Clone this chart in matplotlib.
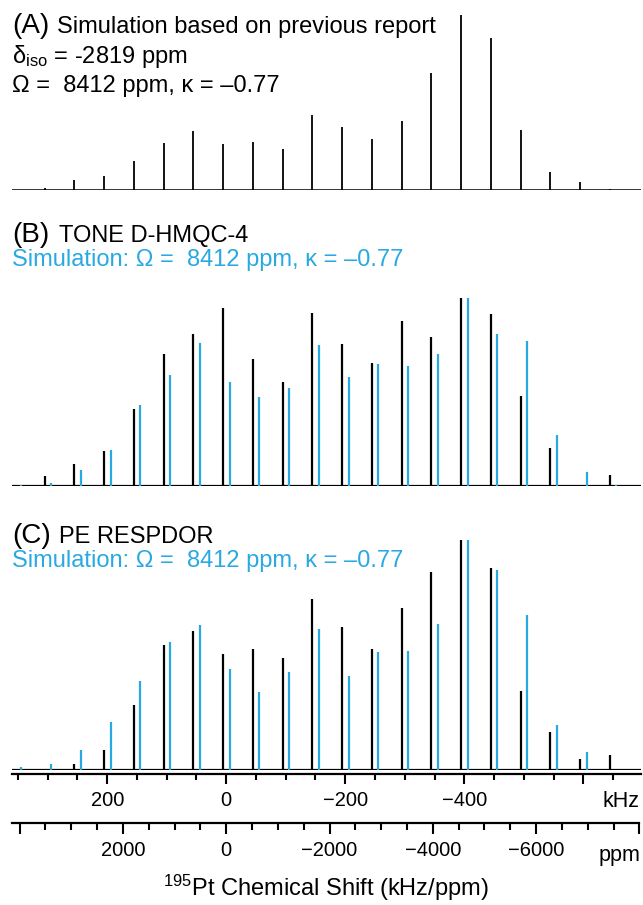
import numpy as np
import matplotlib
matplotlib.use("Agg")
import matplotlib.pyplot as plt
from matplotlib.ticker import FixedLocator, MultipleLocator, FixedFormatter

plt.rcParams['font.family'] = ['Liberation Sans', 'DejaVu Sans']
plt.rcParams['mathtext.fontset'] = 'custom'
plt.rcParams['mathtext.rm'] = 'Liberation Sans'
plt.rcParams['mathtext.it'] = 'Liberation Sans:italic'

# ---- spectral parameters -------------------------------------------------
iso_ppm = -2819.0          # isotropic shift
larmor_mhz = 86.8          # 195Pt frequency
spin_rate_khz = 50.0       # MAS rate
sim_shift_khz = -11.0      # simulated sticks drawn beside the measured ones

# spinning-sideband orders, high frequency (left) to low frequency (right)
orders = np.arange(12, -9, -1)

# (A) simulation from previously reported tensor
sim_prev = [0.0, 1.5, 5.7, 8.2, 16.7, 27.1, 33.8, 26.6, 27.3, 23.7, 42.7,
            36.1, 29.4, 39.5, 67.0, 100.0, 86.9, 34.2, 10.2, 4.7, 0.9]

# (B) TONE D-HMQC-4 experiment and simulation
hmqc_exp = [0.0, 5.3, 11.4, 18.5, 40.8, 70.2, 81.1, 94.7, 67.9, 55.4, 92.5,
            75.6, 65.4, 88.1, 79.7, 100.0, 91.6, 47.8, 20.3, 0.0, 5.9]
hmqc_sim = [0.5, 1.4, 8.2, 18.9, 43.3, 59.4, 76.3, 55.3, 47.2, 52.4, 74.9,
            58.3, 65.2, 63.8, 70.2, 100.0, 81.3, 77.2, 27.3, 7.5, 0.4]

# (C) PE RESPDOR experiment and simulation
respdor_exp = [0.0, 0.0, 2.2, 8.3, 28.2, 54.1, 60.1, 50.1, 52.3, 48.3, 74.2,
               61.9, 52.3, 70.2, 85.9, 100.0, 87.8, 34.2, 16.4, 4.5, 6.3]
respdor_sim = [1.0, 2.6, 8.4, 20.5, 38.6, 55.6, 62.7, 43.7, 33.9, 42.2, 61.1,
               40.5, 51.2, 51.4, 63.3, 99.7, 86.6, 67.2, 19.2, 7.4, 0.0]

khz_major = [200, 0, -200, -400, -600]
khz_labels = ['200', '0', '\u2212200', '\u2212400', '']
ppm_major = [4000, 2000, 0, -2000, -4000, -6000, -8000]
ppm_labels = ['', '2000', '0', '\u22122000', '\u22124000', '\u22126000', '']

BLUE = '#29A9E1'
W, H = 643, 905
xlim_khz = (360.0, -697.0)

iso_khz = iso_ppm * larmor_mhz * 1e-3
pos_khz = iso_khz + orders * spin_rate_khz


def fx(x):
    return x / W


def fy(y):
    return 1 - y / H


def panel(y_base, y_top):
    ax = fig.add_axes([fx(12), fy(y_base), (641 - 12) / W, (y_base - y_top) / H])
    ax.set_xlim(*xlim_khz)
    ax.set_ylim(0, 100)
    ax.axis('off')
    return ax


def sticks(ax, x, h, color, lw):
    h = np.asarray(h)
    keep = h > 0
    ax.vlines(x[keep], 0, h[keep], color=color, lw=lw, capstyle='butt')


fig = plt.figure(figsize=(W / 100, H / 100), dpi=100)

# panel A
axA = panel(190.3, 15.0)
axA.axhline(0, color='black', lw=1.1)
sticks(axA, pos_khz, sim_prev, 'black', 1.3)

# panel B
axB = panel(485.7, 298.5)
axB.axhline(0, color='black', lw=1.6)
sticks(axB, pos_khz, hmqc_exp, 'black', 1.6)
sticks(axB, pos_khz + sim_shift_khz, hmqc_sim, BLUE, 1.6)

# panel C
axC = panel(769.5, 539.5)
axC.axhline(0, color='black', lw=1.6)
sticks(axC, pos_khz, respdor_exp, 'black', 1.6)
sticks(axC, pos_khz + sim_shift_khz, respdor_sim, BLUE, 1.6)


def scale_axis(y_spine, lim, major, labels, minor_step, maj_len, min_len, right_end=None):
    ax = fig.add_axes([fx(12), fy(y_spine), (641 - 12) / W, 0.0001])
    ax.set_xlim(*lim)
    ax.patch.set_visible(False)
    for s in ('top', 'left', 'right'):
        ax.spines[s].set_visible(False)
    ax.spines['bottom'].set_linewidth(1.6)
    if right_end is not None:
        ax.spines['bottom'].set_bounds(lim[0], right_end)
    ax.set_yticks([])
    ax.xaxis.set_major_locator(FixedLocator(major))
    ax.xaxis.set_major_formatter(FixedFormatter(labels))
    ax.xaxis.set_minor_locator(MultipleLocator(minor_step))
    ax.tick_params(axis='x', which='major', direction='out', length=maj_len,
                   width=1.5, labelsize=14.5, pad=5)
    ax.tick_params(axis='x', which='minor', direction='out', length=min_len, width=1.5)
    return ax


scale_axis(774.0, xlim_khz, khz_major, khz_labels, 50, 7.2, 4.3)
xlim_ppm = (xlim_khz[0] / (larmor_mhz * 1e-3), xlim_khz[1] / (larmor_mhz * 1e-3))
scale_axis(823.3, xlim_ppm, ppm_major, ppm_labels, 500, 7.7, 4.8, right_end=-8000)

fig.text(fx(640), fy(806.7), 'kHz', ha='right', va='baseline', fontsize=15.5)
fig.text(fx(640), fy(860.5), 'ppm', ha='right', va='baseline', fontsize=15.5)
fig.text(fx(325.5), fy(896), r'$\mathregular{^{195}}$Pt Chemical Shift (kHz/ppm)',
         ha='center', va='baseline', fontsize=17)

# panel headings
fig.text(fx(12), fy(33.3), '(A)', fontsize=20, va='baseline')
fig.text(fx(57), fy(33.3), 'Simulation based on previous report', fontsize=17, va='baseline')
fig.text(fx(12), fy(63.3), r'$\mathregular{\delta_{iso}}$ = -2819 ppm', fontsize=17, va='baseline')
fig.text(fx(12), fy(92.3), '\u03a9 =  8412 ppm, \u03ba = \u20130.77', fontsize=17, va='baseline')

fig.text(fx(12), fy(242.3), '(B)', fontsize=20, va='baseline')
fig.text(fx(59), fy(242.3), 'TONE D-HMQC-4', fontsize=17, va='baseline')
fig.text(fx(12), fy(266.0), 'Simulation: \u03a9 =  8412 ppm, \u03ba = \u20130.77',
         fontsize=17, va='baseline', color=BLUE)

fig.text(fx(12), fy(542.7), '(C)', fontsize=20, va='baseline')
fig.text(fx(59), fy(542.7), 'PE RESPDOR', fontsize=17, va='baseline')
fig.text(fx(12), fy(567.0), 'Simulation: \u03a9 =  8412 ppm, \u03ba = \u20130.77',
         fontsize=17, va='baseline', color=BLUE)

fig.savefig('out.png', dpi=100)
